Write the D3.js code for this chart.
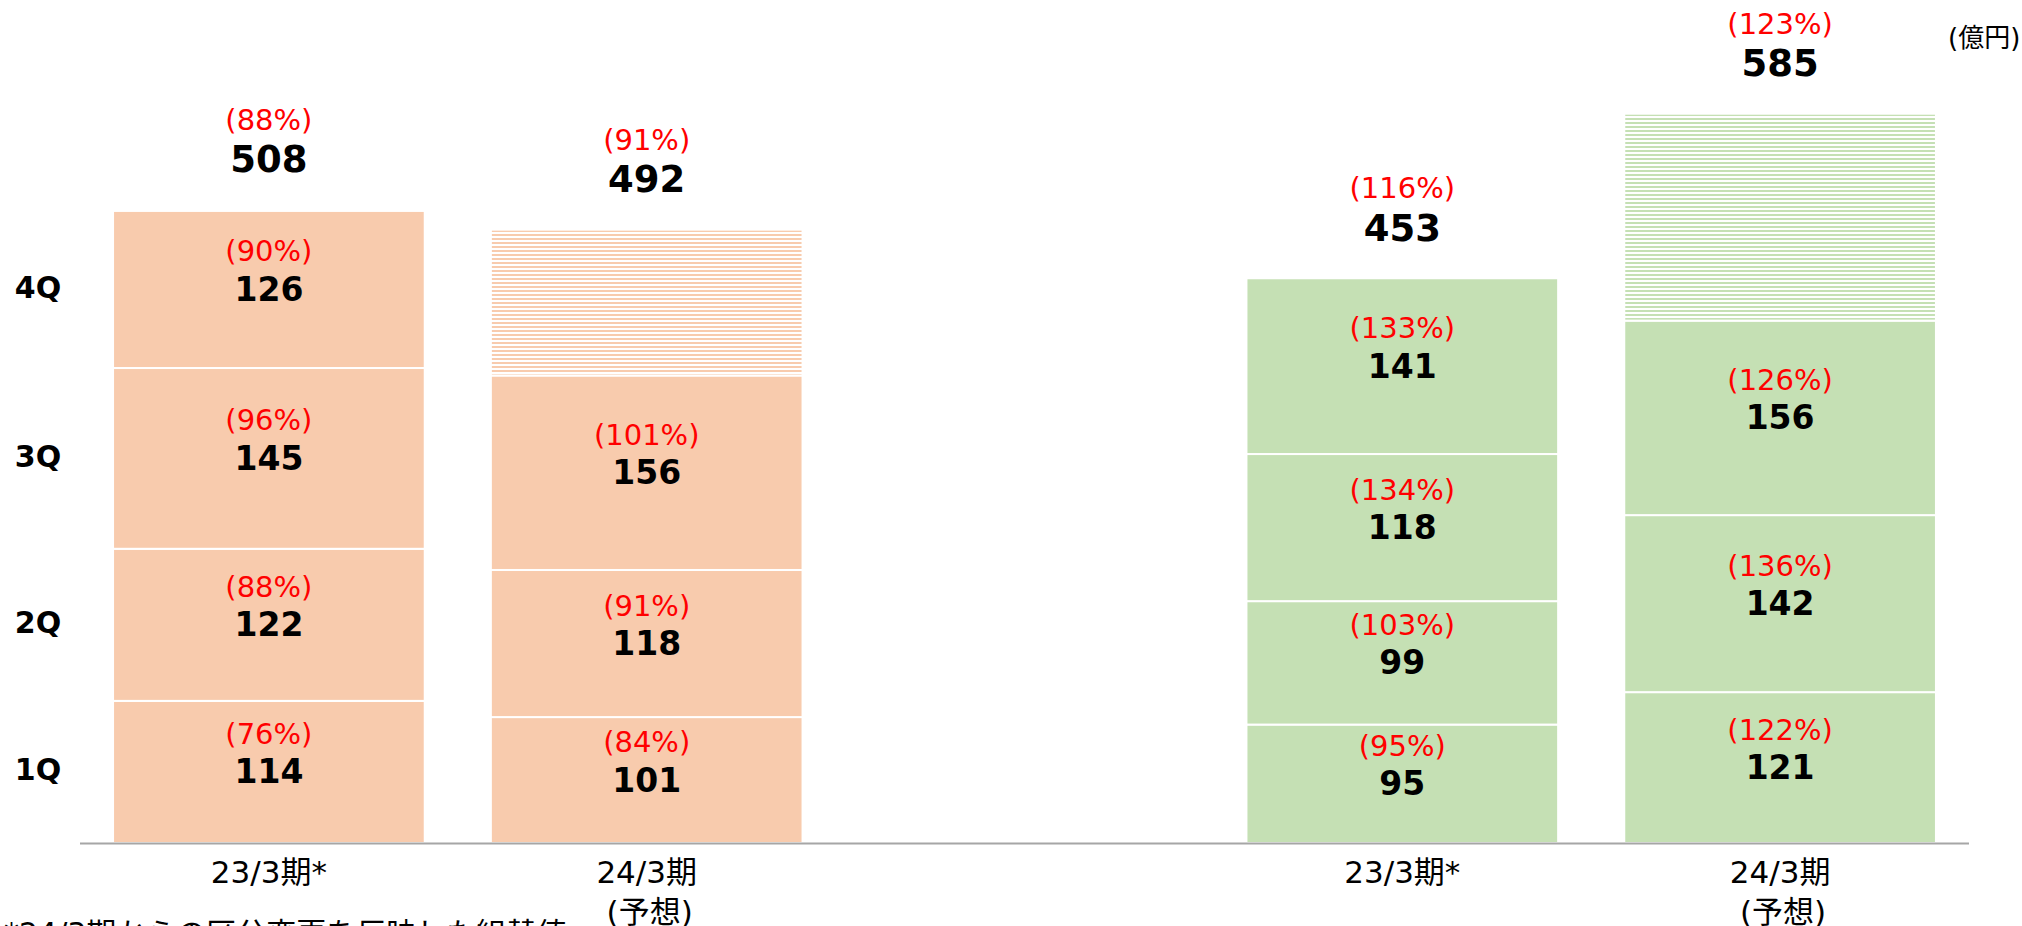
<!DOCTYPE html>
<html>
<head>
<meta charset="utf-8">
<script src="https://cdn.jsdelivr.net/npm/d3@7"></script>
<style>
  body { margin: 0; background: #fff; }
  text { font-family: "DejaVu Sans", "Noto Sans CJK JP", sans-serif; }
</style>
</head>
<body>
<div id="chart"></div>
<script>
// chart data
var barKeys = ["o23", "o24", "gap", "g23", "g24"];
var categoryLines = [["23/3期*"], ["24/3期", "(予想)"], [], ["23/3期*"], ["24/3期", "(予想)"]];
var quarters = ["1Q", "2Q", "3Q", "4Q"];

var q1 = [114, 101, 95, 121];
var q2 = [122, 118, 99, 142];
var q3 = [145, 156, 118, 156];
var q4 = [126, 117, 141, 166];   // forecast bars: remaining part up to total
var totals = [508, 492, 453, 585];

var q1Pct = ["(76%)", "(84%)", "(95%)", "(122%)"];
var q2Pct = ["(88%)", "(91%)", "(103%)", "(134%)"];
var q3Pct = ["(96%)", "(101%)", "(134%)", "(126%)"];
var q4Pct = ["(90%)", null, "(133%)", null];
var totalPct = ["(88%)", "(91%)", "(116%)", "(123%)"];
q2Pct[3] = "(136%)";

var forecast = [false, true, false, true];
var barColor = ["#F8CBAD", "#F8CBAD", "#C5E0B4", "#C5E0B4"];
var bars = ["o23", "o24", "g23", "g24"];

var width = 2022,
  height = 926;

var svg = d3.select("#chart").append("svg")
  .attr("width", width)
  .attr("height", height);

// striped patterns for the forecast 4Q
var defs = svg.append("defs");
[["stripeO", "#F8CBAD"], ["stripeG", "#C5E0B4"]].forEach(function (p) {
  var pat = defs.append("pattern")
    .attr("id", p[0])
    .attr("patternUnits", "userSpaceOnUse")
    .attr("width", 8).attr("height", 4);
  pat.append("rect").attr("width", 8).attr("height", 4).attr("fill", "#fff");
  pat.append("rect").attr("y", 2).attr("width", 8).attr("height", 2).attr("fill", p[1]);
});

var x = d3.scaleBand()
  .domain(barKeys)
  .range([80, 1969])
  .paddingInner(0.175)
  .paddingOuter(0.0875);

var y = d3.scaleLinear()
  .domain([0, 600])
  .range([843, 95]);

// build segments
var segs = [];
bars.forEach(function (k, i) {
  var vals = [q1[i], q2[i], q3[i], q4[i]];
  var pcts = [q1Pct[i], q2Pct[i], q3Pct[i], q4Pct[i]];
  var base = 0;
  vals.forEach(function (v, j) {
    segs.push({
      key: k, i: i, q: j, y0: base, y1: base + v, v: v, pct: pcts[j],
      hatched: forecast[i] && j == 3
    });
    base += v;
  });
});

var g = svg.append("g");

g.selectAll("rect.seg")
  .data(segs)
  .enter().append("rect")
  .attr("class", "seg")
  .attr("x", function (d) { return x(d.key); })
  .attr("width", x.bandwidth())
  .attr("y", function (d) { return y(d.y1); })
  .attr("height", function (d) { return y(d.y0) - y(d.y1); })
  .attr("fill", function (d) {
    if (d.hatched) return d.i < 2 ? "url(#stripeO)" : "url(#stripeG)";
    return barColor[d.i];
  })
  .attr("stroke", "#fff")
  .attr("stroke-width", 2);

// labels inside segments
var lab = segs.filter(function (d) { return !d.hatched; });

g.selectAll("text.pct")
  .data(lab)
  .enter().append("text")
  .attr("x", function (d) { return x(d.key) + x.bandwidth() / 2; })
  .attr("y", function (d) { return (y(d.y0) + y(d.y1)) / 2 - 38; })
  .attr("text-anchor", "middle")
  .attr("dominant-baseline", "central")
  .attr("font-size", 29)
  .attr("fill", "#FF0000")
  .text(function (d) { return d.pct; });

g.selectAll("text.val")
  .data(lab)
  .enter().append("text")
  .attr("x", function (d) { return x(d.key) + x.bandwidth() / 2; })
  .attr("y", function (d) { return (y(d.y0) + y(d.y1)) / 2; })
  .attr("text-anchor", "middle")
  .attr("dominant-baseline", "central")
  .attr("font-size", 33)
  .attr("font-weight", "bold")
  .attr("fill", "#000")
  .text(function (d) { return d.v; });

// totals on top
bars.forEach(function (k, i) {
  var cx = x(k) + x.bandwidth() / 2;
  g.append("text")
    .attr("x", cx).attr("y", y(totals[i]) - 90)
    .attr("text-anchor", "middle").attr("dominant-baseline", "central")
    .attr("font-size", 29).attr("fill", "#FF0000")
    .text(totalPct[i]);
  g.append("text")
    .attr("x", cx).attr("y", y(totals[i]) - 50)
    .attr("text-anchor", "middle").attr("dominant-baseline", "central")
    .attr("font-size", 37).attr("font-weight", "bold").attr("fill", "#000")
    .text(totals[i]);
});

// quarter labels on the left, next to the first bar
quarters.forEach(function (q, j) {
  var s = segs[j];
  g.append("text")
    .attr("x", 38).attr("y", (y(s.y0) + y(s.y1)) / 2 - 2)
    .attr("text-anchor", "middle").attr("dominant-baseline", "central")
    .attr("font-size", 30).attr("font-weight", "bold").attr("fill", "#000")
    .text(q);
});

// baseline
svg.append("line")
  .attr("x1", x.range()[0]).attr("x2", x.range()[1])
  .attr("y1", y(0) + 0.5).attr("y2", y(0) + 0.5)
  .attr("stroke", "#A6A6A6").attr("stroke-width", 2);

// category labels
barKeys.forEach(function (k, i) {
  var cx = x(k) + x.bandwidth() / 2;
  categoryLines[i].forEach(function (line, li) {
    svg.append("text")
      .attr("x", cx + (li > 0 ? 3 : 0)).attr("y", 872 + li * 40)
      .attr("text-anchor", "middle").attr("dominant-baseline", "central")
      .attr("font-size", 31).attr("fill", "#000")
      .text(line);
  });
});

// unit
svg.append("text")
  .attr("x", 1948).attr("y", 38)
  .attr("dominant-baseline", "central")
  .attr("font-size", 26).attr("fill", "#000")
  .text("(億円)");

// footnote (cut off at the bottom)
svg.append("text")
  .attr("x", 4).attr("y", 944)
  .attr("font-size", 30).attr("fill", "#000")
  .text("*24/3期からの区分変更を反映した組替値");
</script>
</body>
</html>
